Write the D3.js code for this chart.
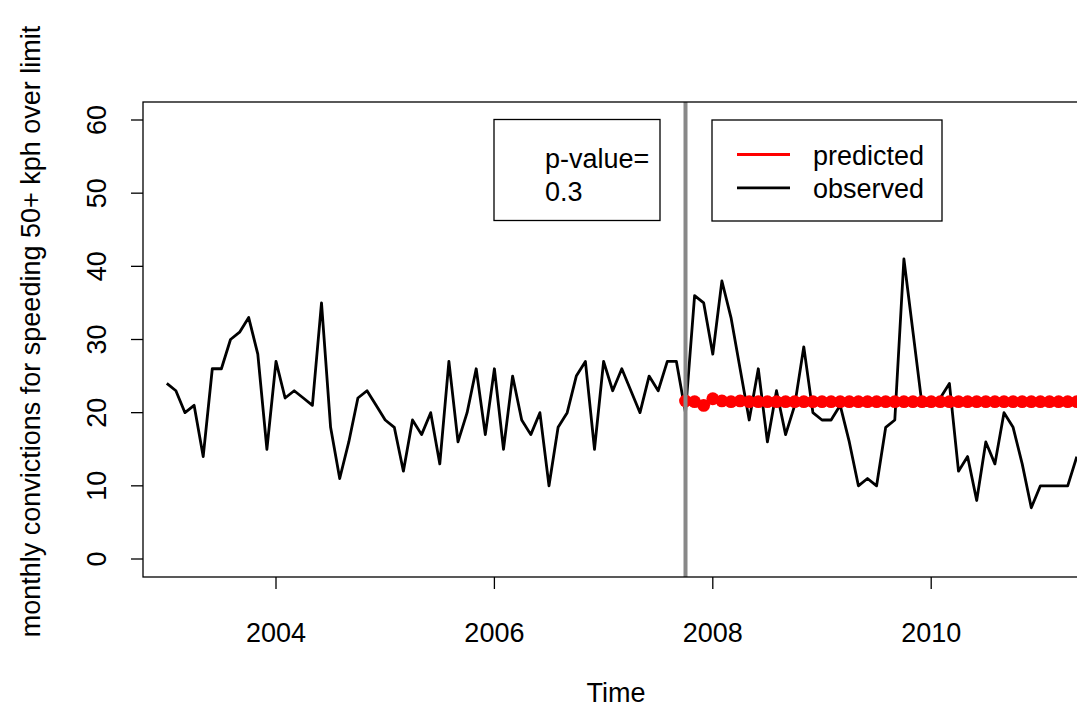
<!DOCTYPE html>
<html lang="en">
<head>
    <meta charset="UTF-8">
    <title>Monthly convictions for speeding</title>
    <script src="https://d3js.org/d3.v7.min.js"></script>
    <style>
        body { margin: 0; background: #fff; }
        text { font-family: "Liberation Sans", Arial, Helvetica, sans-serif; }
    </style>
</head>
<body>
    <svg width="1077" height="709" id="chart"></svg>

    <script>
        // monthly series, first value is Jan 2003
        const startYear = 2003;
        const observed = [
            24, 23, 20, 21, 14, 26, 26, 30, 31, 33, 28, 15,
            27, 22, 23, 22, 21, 35, 18, 11, 16, 22, 23, 21,
            19, 18, 12, 19, 17, 20, 13, 27, 16, 20, 26, 17,
            26, 15, 25, 19, 17, 20, 10, 18, 20, 25, 27, 15,
            27, 23, 26, 23, 20, 25, 23, 27, 27, 20, 36, 35,
            28, 38, 33, 26, 19, 26, 16, 23, 17, 21, 29, 20,
            19, 19, 21, 16, 10, 11, 10, 18, 19, 41, 31, 21,
            21, 22, 24, 12, 14, 8, 16, 13, 20, 18, 13, 7,
            10, 10, 10, 10, 14
        ];
        // predicted series starts at the intervention month (Oct 2007)
        const predictedStart = 57;
        const predicted = [
            21.6, 21.5, 21.0, 21.9, 21.6, 21.5, 21.6, 21.5, 21.5, 21.5,
            21.5, 21.5, 21.5, 21.5, 21.5, 21.5, 21.5, 21.5, 21.5, 21.5,
            21.5, 21.5, 21.5, 21.5, 21.5, 21.5, 21.5, 21.5, 21.5, 21.5,
            21.5, 21.5, 21.5, 21.5, 21.5, 21.5, 21.5, 21.5, 21.5, 21.5,
            21.5, 21.5, 21.5, 21.5, 21.5
        ];
        const interventionTime = 2007.75;
        const xTicks = [2004, 2006, 2008, 2010];
        const yTicks = [0, 10, 20, 30, 40, 50, 60];
        const pValueLines = ["p-value=", "0.3"];
        const legendItems = [
            { label: "predicted", color: "red" },
            { label: "observed", color: "black" }
        ];

        const svg = d3.select("#chart");
        const plot = { left: 143, top: 102, right: 1089, bottom: 577 };
        const fontSize = 27;

        const x = d3.scaleLinear().domain([2003, 2010]).range([166.8, 931.2]);
        const y = d3.scaleLinear().domain([0, 60]).range([559, 120]);

        const obsData = observed.map((v, i) => ({ t: startYear + i / 12, v }));
        const predData = predicted.map((v, i) => ({ t: startYear + (predictedStart + i) / 12, v }));

        svg.append("defs").append("clipPath").attr("id", "plotClip")
            .append("rect")
            .attr("x", plot.left).attr("y", plot.top)
            .attr("width", plot.right - plot.left).attr("height", plot.bottom - plot.top);

        const g = svg.append("g").attr("clip-path", "url(#plotClip)");

        const line = d3.line().x(d => x(d.t)).y(d => y(d.v));

        // observed
        g.append("path")
            .datum(obsData)
            .attr("d", line)
            .attr("fill", "none")
            .attr("stroke", "black")
            .attr("stroke-width", 2.8)
            .attr("stroke-linejoin", "round");

        // predicted: line plus filled points
        g.append("path")
            .datum(predData)
            .attr("d", line)
            .attr("fill", "none")
            .attr("stroke", "red")
            .attr("stroke-width", 2.8);

        g.selectAll("circle.pred")
            .data(predData)
            .enter()
            .append("circle")
            .attr("class", "pred")
            .attr("cx", d => x(d.t))
            .attr("cy", d => y(d.v))
            .attr("r", 6.4)
            .attr("fill", "red");

        // intervention line
        g.append("line")
            .attr("x1", x(interventionTime)).attr("x2", x(interventionTime))
            .attr("y1", plot.top).attr("y2", plot.bottom + 2)
            .attr("stroke", "#888888")
            .attr("stroke-width", 4);

        // box
        svg.append("rect")
            .attr("x", plot.left).attr("y", plot.top)
            .attr("width", plot.right - plot.left).attr("height", plot.bottom - plot.top)
            .attr("fill", "none")
            .attr("stroke", "black")
            .attr("stroke-width", 1.3);

        // x axis
        const xAxis = svg.append("g");
        xAxis.selectAll("line")
            .data(xTicks).enter().append("line")
            .attr("x1", d => x(d)).attr("x2", d => x(d))
            .attr("y1", plot.bottom).attr("y2", plot.bottom + 12)
            .attr("stroke", "black").attr("stroke-width", 1.3);
        xAxis.selectAll("text")
            .data(xTicks).enter().append("text")
            .attr("x", d => x(d))
            .attr("y", 642)
            .attr("text-anchor", "middle")
            .attr("font-size", fontSize)
            .text(d => d);

        // y axis
        const yAxis = svg.append("g");
        yAxis.selectAll("line.tick")
            .data(yTicks).enter().append("line")
            .attr("class", "tick")
            .attr("x1", plot.left - 12).attr("x2", plot.left)
            .attr("y1", d => y(d)).attr("y2", d => y(d))
            .attr("stroke", "black").attr("stroke-width", 1.3);
        yAxis.selectAll("text")
            .data(yTicks).enter().append("text")
            .attr("transform", d => `translate(106,${y(d)}) rotate(-90)`)
            .attr("text-anchor", "middle")
            .attr("font-size", fontSize)
            .text(d => d);

        // axis titles
        svg.append("text")
            .attr("x", (plot.left + plot.right) / 2)
            .attr("y", 702)
            .attr("text-anchor", "middle")
            .attr("font-size", fontSize)
            .text("Time");

        svg.append("text")
            .attr("transform", `translate(40,${(plot.top + plot.bottom) / 2 - 8}) rotate(-90)`)
            .attr("text-anchor", "middle")
            .attr("font-size", fontSize)
            .text("monthly convictions for speeding 50+ kph over limit");

        // p-value box
        svg.append("rect")
            .attr("x", 494).attr("y", 119.5)
            .attr("width", 166).attr("height", 101)
            .attr("fill", "white").attr("stroke", "black").attr("stroke-width", 1.3);
        svg.selectAll("text.pv")
            .data(pValueLines).enter().append("text")
            .attr("class", "pv")
            .attr("x", 545)
            .attr("y", (d, i) => 168 + i * 33)
            .attr("font-size", fontSize)
            .text(d => d);

        // legend
        svg.append("rect")
            .attr("x", 712).attr("y", 120)
            .attr("width", 230).attr("height", 101)
            .attr("fill", "white").attr("stroke", "black").attr("stroke-width", 1.3);
        const leg = svg.selectAll("g.leg")
            .data(legendItems).enter().append("g")
            .attr("class", "leg")
            .attr("transform", (d, i) => `translate(0,${154.5 + i * 33.3})`);
        leg.append("line")
            .attr("x1", 737).attr("x2", 790)
            .attr("y1", 0).attr("y2", 0)
            .attr("stroke", d => d.color)
            .attr("stroke-width", 2.8);
        leg.append("text")
            .attr("x", 813)
            .attr("y", 10)
            .attr("font-size", fontSize)
            .text(d => d.label);
    </script>
</body>
</html>
